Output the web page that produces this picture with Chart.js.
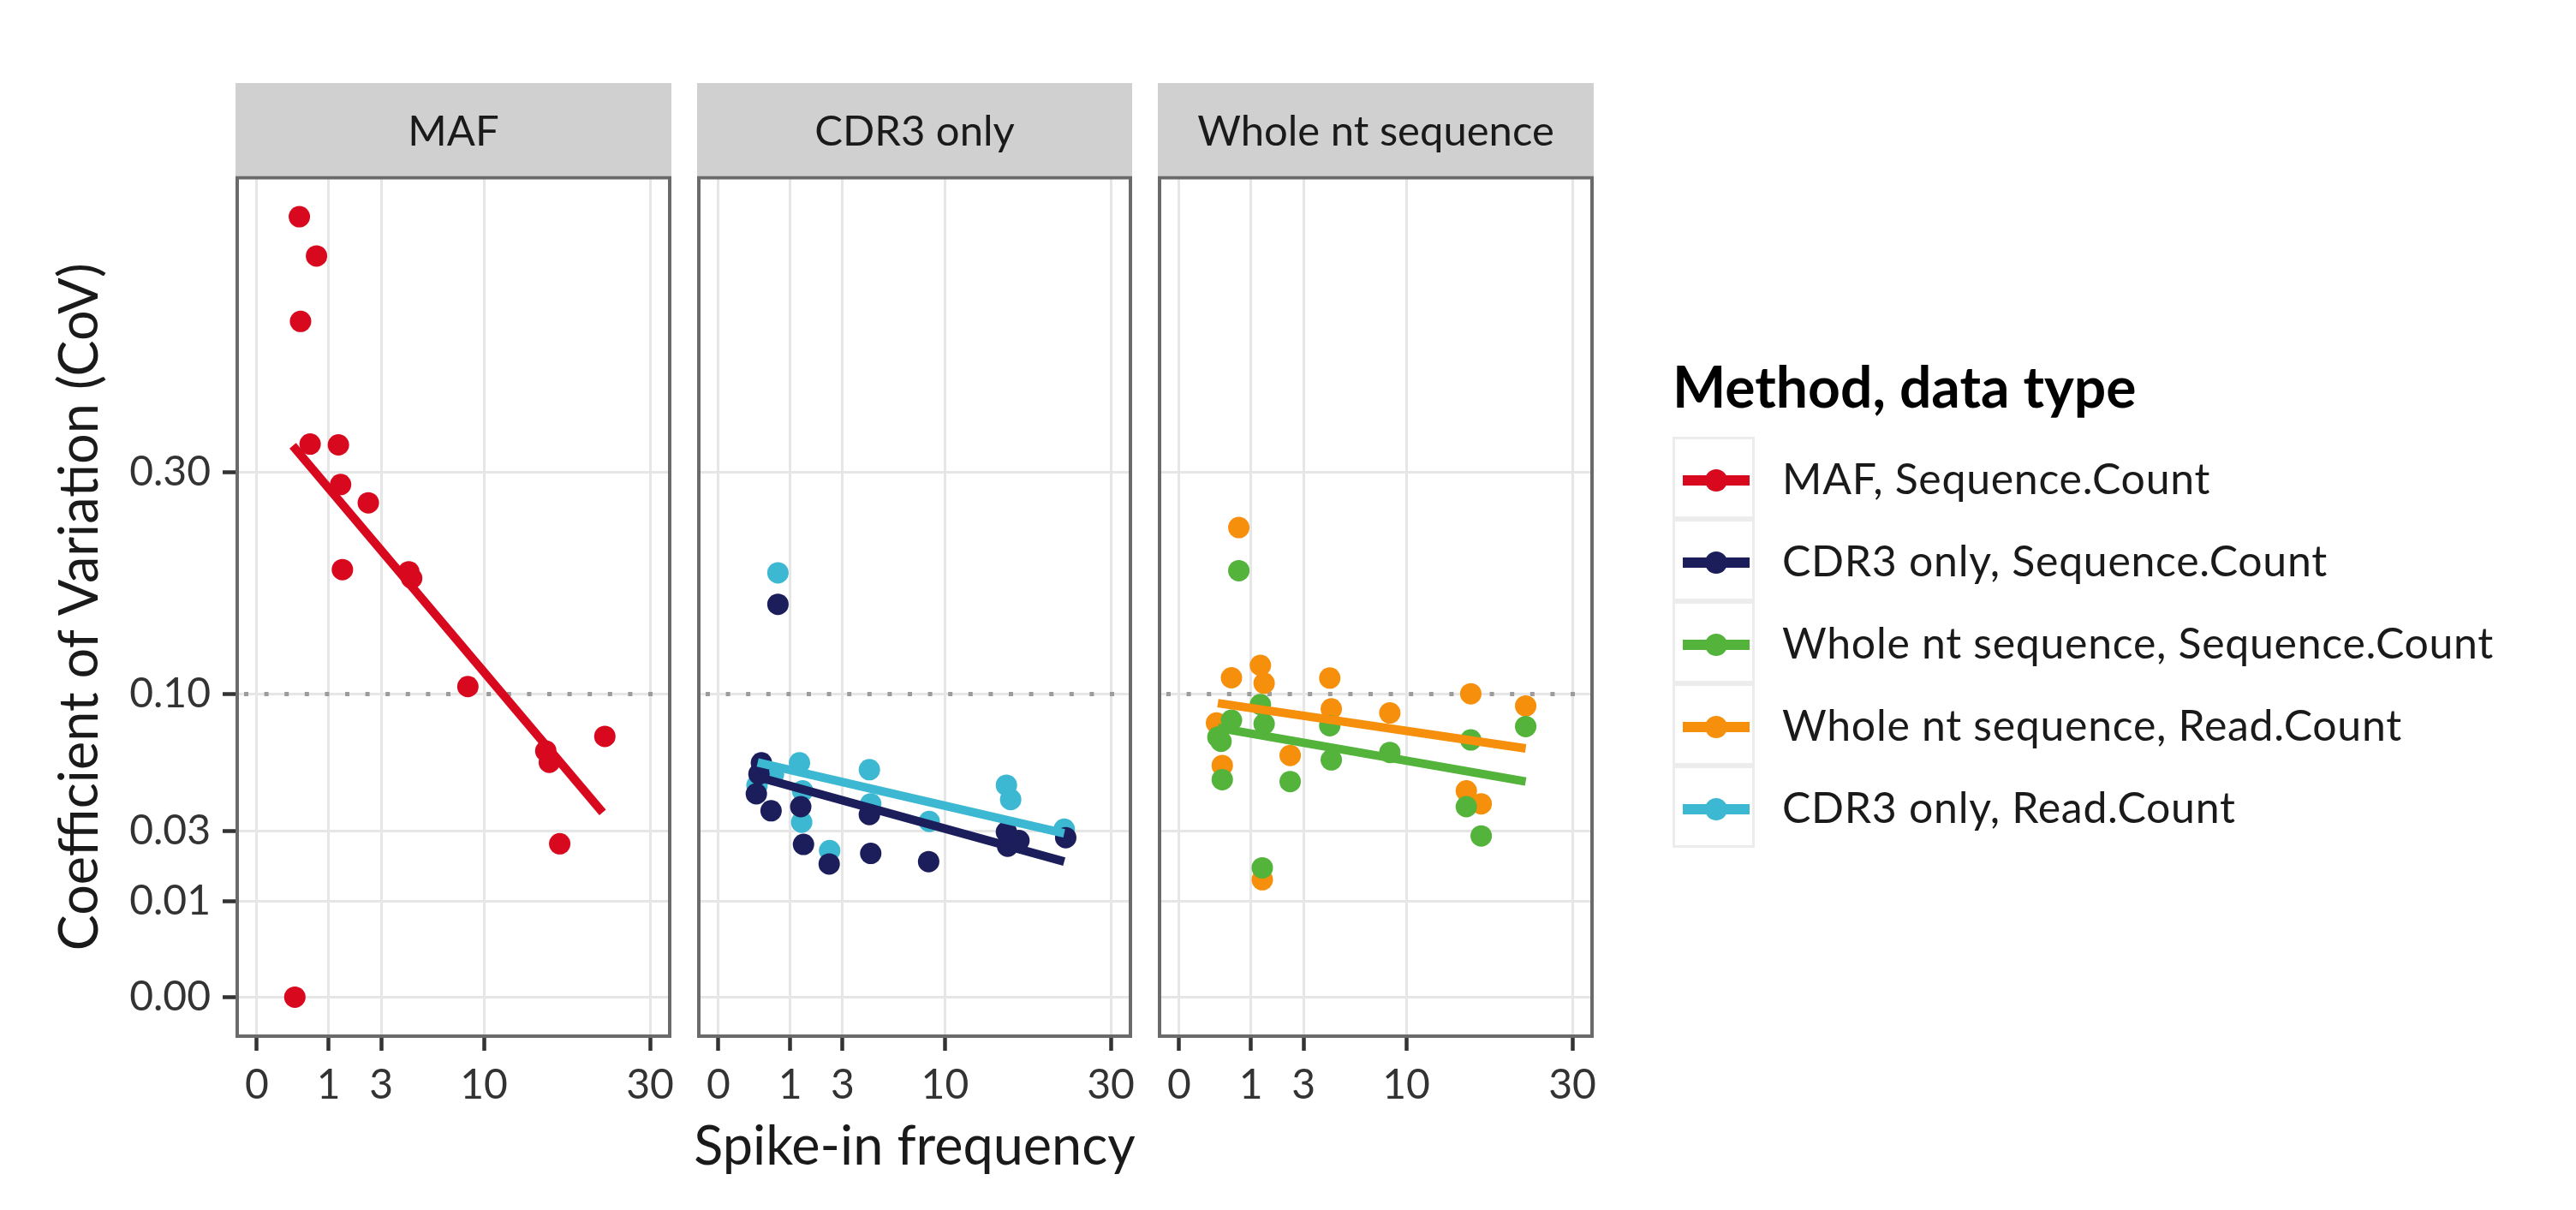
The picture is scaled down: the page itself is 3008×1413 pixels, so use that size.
<!DOCTYPE html>
<html>
<head>
<meta charset="utf-8">
<title>Spike-in frequency vs CoV</title>
<script src="https://cdn.jsdelivr.net/npm/chart.js@4.4.1/dist/chart.umd.min.js"></script>
<style>
    body { margin: 0; background: #fff; width: 3008px; height: 1413px; overflow: hidden; position: relative; font-family: Lato, sans-serif; color: #1a1a1a; }
    canvas { position: absolute; }
    .strip { position: absolute; top: 97px; height: 108px; line-height: 108px; background: #d0d0d0; text-align: center; font-size: 49px; }
    #xtitle { position: absolute; left: 277px; width: 1582px; top: 1304px; text-align: center; font-size: 63px; line-height: 1; }
    #legend-title { position: absolute; left: 1953px; top: 418px; font-size: 66px; font-weight: 700; line-height: 1; color: #000; }
    .row { position: absolute; left: 1953px; height: 96px; line-height: 96px; font-size: 50px; letter-spacing: 0.7px; white-space: nowrap; }
    .key { position: absolute; left: 0; top: 0; width: 96px; height: 96px; box-sizing: border-box; border: 3px solid #ececec; background: #fff; }
    .key .kline { position: absolute; left: 9px; top: 42px; width: 78px; height: 12px; }
    .key .kdot { position: absolute; left: 35px; top: 35px; width: 26px; height: 26px; border-radius: 50%; }
    .row span { position: absolute; left: 128px; top: 0; }
</style>
</head>
<body>

<div id="xtitle">Spike-in frequency</div>
<div id="legend-title">Method, data type</div>

<script>
// facet names and legend entries
const panelNames = ["MAF", "CDR3 only", "Whole nt sequence"];
const legendLabels = [
    "MAF, Sequence.Count",
    "CDR3 only, Sequence.Count",
    "Whole nt sequence, Sequence.Count",
    "Whole nt sequence, Read.Count",
    "CDR3 only, Read.Count"
];
const seriesColors = ["#d8091e", "#1b1e5b", "#53b33a", "#f68f0b", "#3cb8d2"];

// axis ticks (square-root scale on both axes)
const xTickValues = [0, 1, 3, 10, 30];
const xTickLabels = ["0", "1", "3", "10", "30"];
const yTickValues = [0, 0.01, 0.03, 0.1, 0.3];
const yTickLabels = ["0.00", "0.01", "0.03", "0.10", "0.30"];
const refLineValue = 0.1;

// MAF, Sequence.Count
const mafSeqX = [0.35, 0.69, 0.37, 0.55, 1.29, 1.36, 2.41, 1.42, 4.48, 4.65, 8.64, 16.2, 16.6, 23.5, 17.8, 0.28];
const mafSeqY = [0.663, 0.598, 0.497, 0.333, 0.332, 0.286, 0.266, 0.199, 0.197, 0.191, 0.105, 0.066, 0.060, 0.074, 0.0256, 0.0];
const mafSeqFitX = [0.25, 23.2];
const mafSeqFitY = [0.331, 0.0371];

// CDR3 only, Sequence.Count
const cdr3SeqX = [0.69, 0.36, 0.32, 0.28, 0.54, 1.32, 1.41, 2.39, 4.44, 4.52, 8.61, 16.16, 16.3, 17.6, 23.5];
const cdr3SeqY = [0.168, 0.0598, 0.0542, 0.045, 0.0378, 0.0395, 0.0254, 0.0193, 0.0363, 0.0225, 0.020, 0.0297, 0.0248, 0.0267, 0.0277];
const cdr3SeqFitX = [0.30, 23.3];
const cdr3SeqFitY = [0.0528, 0.0200];

// CDR3 only, Read.Count
const cdr3ReadX = [0.69, 0.29, 0.59, 1.28, 1.38, 1.35, 2.41, 4.44, 4.52, 8.66, 16.16, 16.64, 23.3];
const cdr3ReadY = [0.196, 0.0488, 0.054, 0.0598, 0.0463, 0.0333, 0.0234, 0.0563, 0.0407, 0.0336, 0.0489, 0.0425, 0.0307];
const cdr3ReadFitX = [0.30, 23.3];
const cdr3ReadFitY = [0.0600, 0.0292];

// Whole nt sequence, Sequence.Count
const wholeSeqX = [0.69, 1.28, 0.53, 1.40, 0.29, 0.34, 4.40, 4.49, 8.61, 16.5, 23.3, 0.36, 2.39, 16.0, 17.7, 1.34];
const wholeSeqY = [0.198, 0.0932, 0.0835, 0.0813, 0.0736, 0.0712, 0.0802, 0.0613, 0.0652, 0.072, 0.0797, 0.0515, 0.0506, 0.0395, 0.0283, 0.0182];
const wholeSeqFitX = [0.29, 23.3];
const wholeSeqFitY = [0.079, 0.0506];

// Whole nt sequence, Read.Count
const wholeReadX = [0.69, 0.53, 1.28, 1.40, 4.40, 4.49, 8.61, 16.5, 23.3, 0.27, 0.36, 2.39, 16.0, 17.7, 1.34];
const wholeReadY = [0.240, 0.111, 0.1198, 0.1073, 0.1108, 0.0905, 0.0879, 0.1002, 0.0923, 0.0818, 0.0584, 0.0636, 0.0463, 0.0407, 0.0150];
const wholeReadFitX = [0.29, 23.3];
const wholeReadFitY = [0.0941, 0.0673];

// page layout of the three facets (pixels)
const panelLeft = [277, 816, 1354];
const panelRight = [782, 1320, 1859];
const canvasLeft = [0, 800, 1340];
const canvasWidth = [800, 540, 540];
const areaTop = 205, areaBottom = 1210, canvasTop = 195, xAxisHeight = 110;

// square-root transform that also works a little below zero
function tf(v) { return Math.sign(v) * Math.sqrt(Math.abs(v)); }

class SqrtScale extends Chart.LinearScale {
    static id = "sqrt";
    getPixelForValue(value) {
        const a = tf(this.min), b = tf(this.max);
        return this.getPixelForDecimal((tf(value) - a) / (b - a));
    }
    getValueForPixel(pixel) {
        const a = tf(this.min), b = tf(this.max);
        const t = a + this.getDecimalForPixel(pixel) * (b - a);
        return Math.sign(t) * t * t;
    }
}
Chart.register(SqrtScale);

// ggplot-like 5% expansion, done in sqrt space
function sqrtLimits(lo, hi) {
    const a = tf(lo), b = tf(hi), pad = (b - a) * 0.05;
    const l = a - pad, h = b + pad;
    return [Math.sign(l) * l * l, h * h];
}
const xLim = sqrtLimits(0, 30);
const yLim = sqrtLimits(0, Math.max(...mafSeqY));

function points(xs, ys) {
    return xs.map((x, i) => ({ x: x, y: ys[i] }));
}

function scatterSet(xs, ys, color) {
    return {
        type: "scatter",
        data: points(xs, ys),
        backgroundColor: color,
        borderWidth: 0,
        pointRadius: 12.5,
        pointHoverRadius: 12.5,
        order: 1
    };
}

function fitSet(xs, ys, color) {
    return {
        type: "line",
        data: points(xs, ys),
        borderColor: color,
        borderWidth: 10,
        borderCapStyle: "butt",
        pointRadius: 0,
        fill: false,
        tension: 0,
        order: 0
    };
}

// dotted reference line at CoV = 0.10
const refLinePlugin = {
    id: "refLine",
    beforeDatasetsDraw(chart) {
        const { ctx, chartArea } = chart;
        const y = chart.scales.y.getPixelForValue(refLineValue);
        ctx.save();
        ctx.strokeStyle = "#9c9c9c";
        ctx.lineWidth = 5;
        ctx.setLineDash([5, 18.6]);
        ctx.beginPath();
        ctx.moveTo(chartArea.left + 8, y);
        ctx.lineTo(chartArea.right, y);
        ctx.stroke();
        ctx.restore();
    }
};

// grey panel border drawn on top
const framePlugin = {
    id: "frame",
    afterDraw(chart) {
        const { ctx, chartArea } = chart;
        ctx.save();
        ctx.strokeStyle = "#6a6a6a";
        ctx.lineWidth = 4;
        ctx.strokeRect(chartArea.left, chartArea.top, chartArea.right - chartArea.left, chartArea.bottom - chartArea.top);
        ctx.restore();
    }
};

Chart.defaults.font.family = "Lato";

const panelSets = [
    [fitSet(mafSeqFitX, mafSeqFitY, seriesColors[0]),
     scatterSet(mafSeqX, mafSeqY, seriesColors[0])],
    [fitSet(cdr3SeqFitX, cdr3SeqFitY, seriesColors[1]),
     fitSet(cdr3ReadFitX, cdr3ReadFitY, seriesColors[4]),
     scatterSet(cdr3SeqX, cdr3SeqY, seriesColors[1]),
     scatterSet(cdr3ReadX, cdr3ReadY, seriesColors[4])],
    [fitSet(wholeReadFitX, wholeReadFitY, seriesColors[3]),
     fitSet(wholeSeqFitX, wholeSeqFitY, seriesColors[2]),
     scatterSet(wholeSeqX, wholeSeqY, seriesColors[2]),
     scatterSet(wholeReadX, wholeReadY, seriesColors[3])]
];

function makePanel(i) {
    const first = i === 0;
    const yAxisWidth = first ? panelLeft[0] - canvasLeft[0] : 0;

    const strip = document.createElement("div");
    strip.className = "strip";
    strip.style.left = (panelLeft[i] - 2) + "px";
    strip.style.width = (panelRight[i] - panelLeft[i] + 4) + "px";
    strip.textContent = panelNames[i];
    document.body.appendChild(strip);

    const canvas = document.createElement("canvas");
    canvas.width = canvasWidth[i];
    canvas.height = areaBottom + xAxisHeight - canvasTop;
    canvas.style.left = canvasLeft[i] + "px";
    canvas.style.top = canvasTop + "px";
    document.body.appendChild(canvas);

    new Chart(canvas.getContext("2d"), {
        type: "scatter",
        data: { datasets: panelSets[i] },
        options: {
            responsive: false,
            animation: false,
            devicePixelRatio: 1,
            events: [],
            layout: {
                padding: {
                    top: areaTop - canvasTop,
                    left: panelLeft[i] - canvasLeft[i] - yAxisWidth,
                    right: canvasLeft[i] + canvasWidth[i] - panelRight[i],
                    bottom: 0
                }
            },
            plugins: { legend: { display: false }, tooltip: { enabled: false } },
            scales: {
                x: {
                    type: "sqrt",
                    min: xLim[0],
                    max: xLim[1],
                    border: { display: false },
                    grid: { color: "#e6e6e6", lineWidth: 3, tickColor: "#333", tickWidth: 4.5, tickLength: 17 },
                    ticks: {
                        autoSkip: false,
                        maxRotation: 0,
                        padding: 12,
                        color: "#333",
                        font: { size: 48 },
                        callback: (v, idx) => xTickLabels[idx]
                    },
                    afterBuildTicks: s => { s.ticks = xTickValues.map(v => ({ value: v })); },
                    afterFit: s => { s.height = xAxisHeight; s.paddingLeft = 0; s.paddingRight = 0; }
                },
                y: {
                    type: "sqrt",
                    min: yLim[0],
                    max: yLim[1],
                    border: { display: false },
                    grid: { color: "#e6e6e6", lineWidth: 3, drawTicks: first, tickColor: "#333", tickWidth: 4.5, tickLength: 17 },
                    ticks: {
                        display: first,
                        autoSkip: false,
                        padding: 14,
                        color: "#333",
                        font: { size: 48 },
                        callback: (v, idx) => yTickLabels[idx]
                    },
                    title: {
                        display: first,
                        text: "Coefficient of Variation (CoV)",
                        color: "#1a1a1a",
                        font: { size: 63 },
                        padding: { top: 56, bottom: 0 }
                    },
                    afterBuildTicks: s => { s.ticks = yTickValues.map(v => ({ value: v })); },
                    afterFit: s => { s.width = yAxisWidth; s.paddingTop = 0; s.paddingBottom = 0; }
                }
            }
        },
        plugins: [refLinePlugin, framePlugin]
    });
}

panelNames.forEach((name, i) => makePanel(i));

// legend, one keyed row per series
legendLabels.forEach((label, i) => {
    const row = document.createElement("div");
    row.className = "row";
    row.style.top = (510 + i * 96) + "px";
    row.innerHTML = '<div class="key"><div class="kline"></div><div class="kdot"></div></div><span></span>';
    row.querySelector(".kline").style.background = seriesColors[i];
    row.querySelector(".kdot").style.background = seriesColors[i];
    row.querySelector("span").textContent = label;
    document.body.appendChild(row);
});
</script>
</body>
</html>
